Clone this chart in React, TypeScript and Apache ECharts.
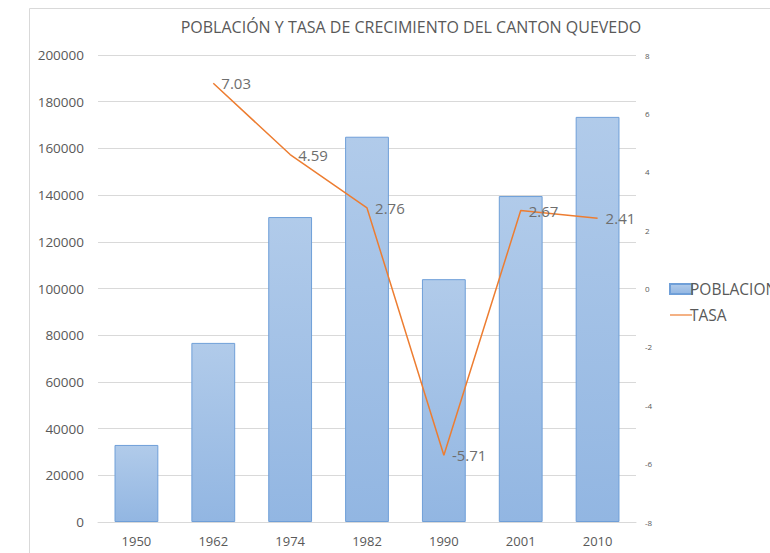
import React, { useEffect, useRef } from "react";
import * as echarts from "echarts";

const categories = ["1950", "1962", "1974", "1982", "1990", "2001", "2010"];
const poblacion = [33000, 76700, 130600, 165000, 104000, 139600, 173500];
const tasa: (number | null)[] = [null, 7.03, 4.59, 2.76, -5.71, 2.67, 2.41];
const title = "POBLACIÓN Y TASA DE CRECIMIENTO DEL CANTON QUEVEDO";

const FONT = "'Open Sans', 'Noto Sans', sans-serif";
const GRAY = "#595959";

export default function App() {
  const ref = useRef<HTMLDivElement>(null);
  useEffect(() => {
    if (!ref.current) return;
    const chart = echarts.init(ref.current, null, { renderer: "svg" });
    chart.setOption({
      animation: false,
      backgroundColor: "#ffffff",
      textStyle: { fontFamily: FONT },
      title: {
        text: title,
        left: 406,
        textAlign: "center",
        top: 14,
        textStyle: { fontFamily: FONT, fontSize: 16, fontWeight: "normal", color: GRAY },
      },
      graphic: [
        {
          type: "rect",
          shape: { x: 29.5, y: 8.5, width: 800, height: 600 },
          style: { fill: "none", stroke: "#d9d9d9", lineWidth: 1 },
          silent: true,
          z: -1,
        },
      ],
      legend: {
        orient: "vertical",
        left: 664,
        top: 276,
        itemWidth: 22,
        itemHeight: 10,
        itemGap: 10,
        textStyle: { fontFamily: FONT, fontSize: 15.5, color: GRAY, padding: [0, 0, 0, -7] },
        data: [
          { name: "POBLACION", icon: "rect" },
          {
            name: "TASA",
            icon: "path://M0,5 L22,5 L22,6.2 L0,6.2 Z",
            itemStyle: { color: "#ed7d31", opacity: 1 },
          },
        ],
      },
      grid: { left: 98, right: 134, top: 55, bottom: 31 },
      xAxis: {
        type: "category",
        data: categories,
        axisLine: { lineStyle: { color: "#d9d9d9" } },
        axisTick: { show: false },
        axisLabel: { color: GRAY, fontSize: 13, fontFamily: FONT, margin: 12 },
      },
      yAxis: [
        {
          type: "value",
          min: 0,
          max: 200000,
          interval: 20000,
          axisLine: { show: false },
          axisTick: { show: false },
          axisLabel: {
            color: GRAY,
            fontSize: 13.5,
            fontFamily: FONT,
            margin: 14,
            formatter: (v: number) => String(v),
          },
          splitLine: { lineStyle: { color: "#d9d9d9" } },
        },
        {
          type: "value",
          min: -8,
          max: 8,
          interval: 2,
          axisLine: { show: false },
          axisTick: { show: false },
          axisLabel: { color: GRAY, fontSize: 8, fontFamily: FONT, margin: 9 },
          splitLine: { show: false },
        },
      ],
      series: [
        {
          name: "POBLACION",
          type: "bar",
          data: poblacion,
          yAxisIndex: 0,
          barWidth: "57%",
          itemStyle: {
            color: new echarts.graphic.LinearGradient(0, 0, 0, 1, [
              { offset: 0, color: "#b1cbea" },
              { offset: 1, color: "#92b6e2" },
            ]),
            borderColor: "#6f9fd8",
            borderWidth: 1,
          },
        },
        {
          name: "TASA",
          type: "line",
          data: tasa,
          yAxisIndex: 1,
          symbol: "circle",
          symbolSize: 0.1,
          showSymbol: true,
          lineStyle: { color: "#ed7d31", width: 1.5 },
          itemStyle: { color: "#ed7d31" },
          label: {
            show: true,
            position: "right",
            distance: 8,
            color: "#6e6e6e",
            fontSize: 15,
            fontFamily: FONT,
          },
          z: 5,
        },
      ],
    });
    return () => chart.dispose();
  }, []);
  return (
    <div
      ref={ref}
      style={{ position: "absolute", left: 0, top: 0, width: 770, height: 553 }}
    />
  );
}
